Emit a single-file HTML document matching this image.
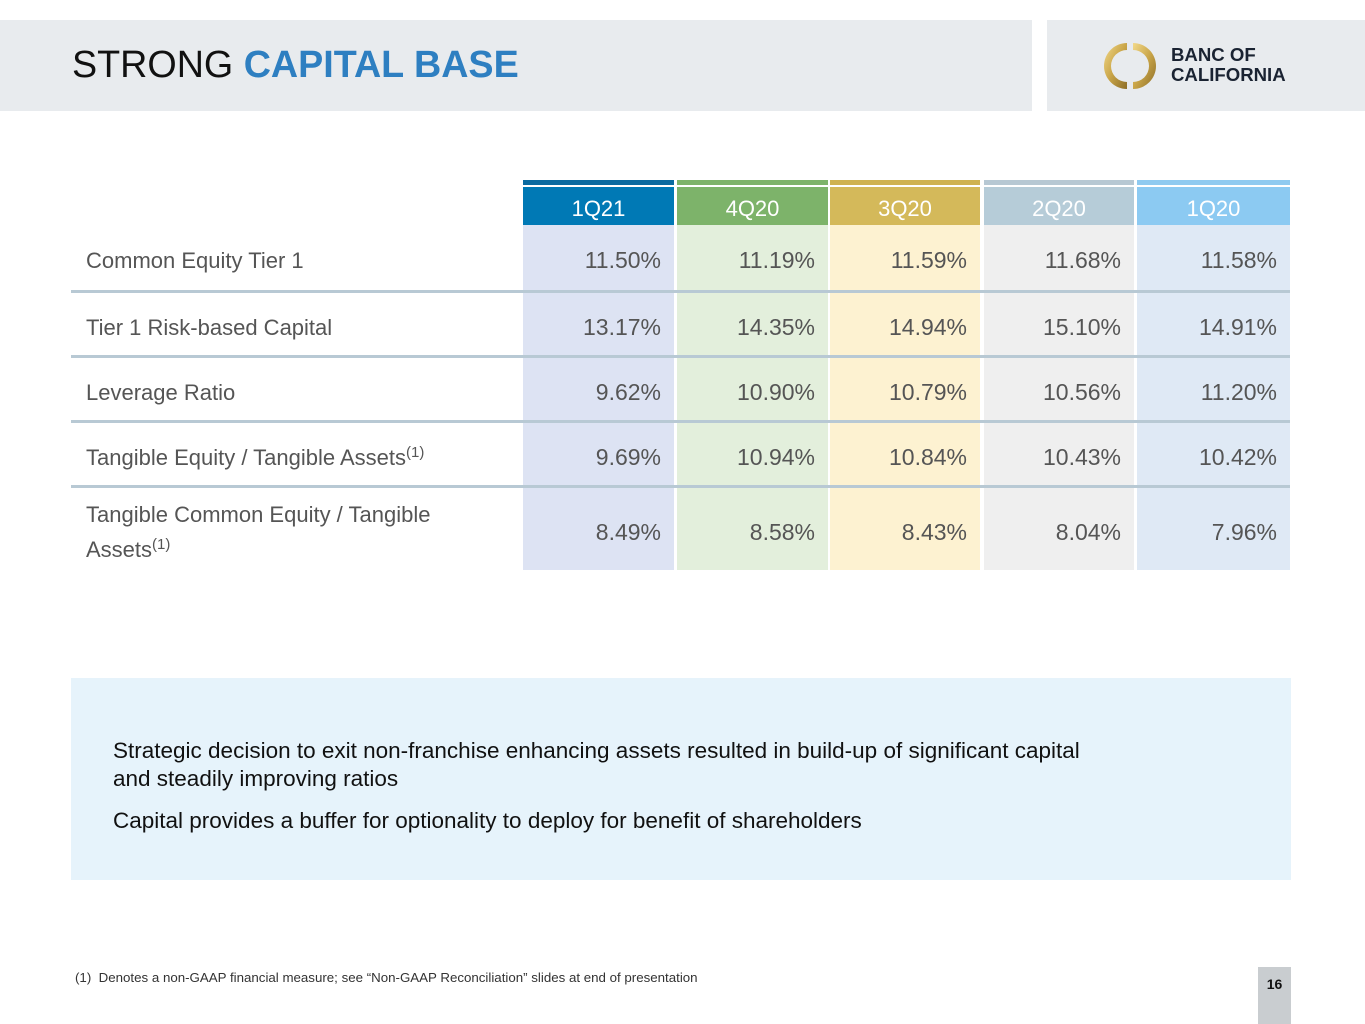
<!DOCTYPE html>
<html><head><meta charset="utf-8"><style>
body{margin:0;width:1365px;height:1024px;background:#fff;position:relative;overflow:hidden;font-family:"Liberation Sans",sans-serif}
.abs{position:absolute}
.n{font-family:"Liberation Sans Narrow","Liberation Sans",sans-serif}
sup{font-size:15px;vertical-align:8px;line-height:0}
</style></head><body>
<div class="abs" style="left:0;top:20px;width:1032px;height:91px;background:#e8ebee"></div>
<div class="abs" style="left:1047px;top:20px;width:318px;height:91px;background:#e8ebee"></div>
<div class="abs" style="left:72px;top:43px;font-size:37.7px;color:#111">STRONG <b style="color:#2e7fc1;font-weight:bold">CAPITAL BASE</b></div>
<svg class="abs" style="left:1104px;top:40px" width="52" height="52" viewBox="0 0 52 52">
<defs><linearGradient id="g" x1="0" y1="0" x2="1" y2="1"><stop offset="0" stop-color="#f2d98a"/><stop offset=".5" stop-color="#c9a548"/><stop offset="1" stop-color="#8d6e28"/></linearGradient></defs>
<path d="M23 3 A23 23 0 0 0 23 49 L23 42 A16 16 0 0 1 23 10Z" fill="url(#g)"/>
<path d="M29 3 A23 23 0 0 1 29 49 L29 42 A16 16 0 0 0 29 10Z" fill="url(#g)"/>
</svg>
<div class="abs" style="left:1171px;top:45px;font-size:18.6px;font-weight:bold;color:#1a2332;line-height:20px">BANC OF<br>CALIFORNIA</div>
<div id="tbl"></div>
<div class="abs" style="left:71px;top:678px;width:1220px;height:202px;background:#e6f3fb"></div>
<div class="abs" style="left:113px;top:737px;font-size:22.5px;color:#111;line-height:28px;width:1000px">Strategic decision to exit non-franchise enhancing assets resulted in build-up of significant capital and steadily improving ratios</div>
<div class="abs" style="left:113px;top:807px;font-size:22.5px;color:#111;line-height:28px">Capital provides a buffer for optionality to deploy for benefit of shareholders</div>
<div class="abs n" style="left:75px;top:970px;font-size:13.3px;color:#333">(1)&nbsp;&nbsp;Denotes a non-GAAP financial measure; see “Non-GAAP Reconciliation” slides at end of presentation</div>
<div class="abs" style="left:1258px;top:967px;width:33px;height:57px;background:#c9cdd0;font-size:14px;font-weight:bold;text-align:center;line-height:34px;color:#111">16</div>
<script>
const periods=["1Q21","4Q20","3Q20","2Q20","1Q20"];
const metrics=["Common Equity Tier 1","Tier 1 Risk-based Capital","Leverage Ratio","Tangible Equity / Tangible Assets<sup>(1)</sup>","Tangible Common Equity / Tangible<br>Assets<sup>(1)</sup>"];
const cet1=["11.50%","11.19%","11.59%","11.68%","11.58%"];
const tier1=["13.17%","14.35%","14.94%","15.10%","14.91%"];
const leverage=["9.62%","10.90%","10.79%","10.56%","11.20%"];
const teta=["9.69%","10.94%","10.84%","10.43%","10.42%"];
const tceta=["8.49%","8.58%","8.43%","8.04%","7.96%"];
const rows=[cet1,tier1,leverage,teta,tceta];
const colX=[523,677,830,984,1137],colW=[151,151,150,150,153];
const head=["#0079b5","#7db36a","#d4b95a","#b6ccd8","#8ccaf2"];
const topc=["#0a6aa0","#7db36a","#cfb251","#b7c8d3","#8fcaf0"];
const body=["#dde3f3","#e3efdc","#fdf2d1","#efefef","#dfe9f5"];
const rowY=[225,293,358,423,488],rowH=[65,62,62,62,82];
const t=document.getElementById('tbl');
function add(html,style){const d=document.createElement('div');d.className='abs n';d.style.cssText=style;d.innerHTML=html;t.appendChild(d);return d;}
periods.forEach((p,i)=>{
 let d=add('','left:'+colX[i]+'px;top:180px;width:'+colW[i]+'px;height:5px;background:'+topc[i]);
 
 
 d=add(p,'left:'+colX[i]+'px;top:187px;width:'+colW[i]+'px;height:38px;background:'+head[i]+';color:#fff;font-size:22px;text-align:center;line-height:43px');
 
 
 d=add('','left:'+colX[i]+'px;top:225px;width:'+colW[i]+'px;height:345px;background:'+body[i]);
 
 
});
[290,355,420,485].forEach(y=>{
 const d=add('','left:71px;top:'+y+'px;width:1219px;height:3px;background:#b8c9d4');
 
 
});
metrics.forEach((m,r)=>{
 let d=add('<span>'+m+'</span>','left:86px;top:'+(rowY[r]+3)+'px;height:'+rowH[r]+'px;width:420px;display:flex;align-items:center;font-size:22px;color:#555;line-height:35px');
 
 
 rows[r].forEach((v,i)=>{
  const c=add(v,'left:'+colX[i]+'px;top:'+(rowY[r]+3)+'px;width:'+(colW[i]-13)+'px;height:'+rowH[r]+'px;display:flex;align-items:center;justify-content:flex-end;font-size:23px;color:#555');
  
  
 });
});
</script>
</body></html>
